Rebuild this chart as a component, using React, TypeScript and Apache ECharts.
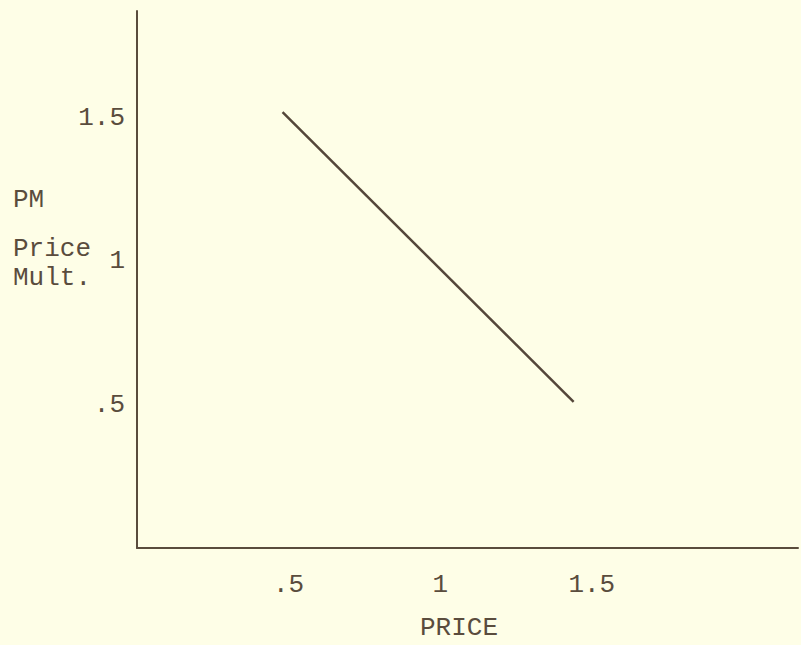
import React, { useEffect, useRef } from "react";
import * as echarts from "echarts";

const xTicks = [0.5, 1, 1.5];
const xTickLabels = [".5", "1", "1.5"];
const yTicks = [0.5, 1, 1.5];
const yTickLabels = [".5", "1", "1.5"];
const lineX = [0.48, 1.44];
const lineY = [1.52, 0.51];

const FONT = "'Liberation Mono', 'DejaVu Sans Mono', monospace";
const INK = "#5a4c3d";
const BG = "#fefee7";
const FS = 26;

function labelFor(v: number, ticks: number[], labels: string[]) {
  for (let i = 0; i < ticks.length; i++) {
    if (Math.abs(ticks[i] - v) < 1e-6) return labels[i];
  }
  return "";
}

export default function App() {
  const ref = useRef<HTMLDivElement>(null);
  useEffect(() => {
    if (!ref.current) return;
    const chart = echarts.init(ref.current, undefined, { renderer: "svg" });
    chart.setOption({
      animation: false,
      backgroundColor: BG,
      grid: { left: 137, top: 11, right: 0, bottom: 97, containLabel: false },
      xAxis: {
        type: "value",
        min: 0,
        max: 2.18,
        interval: 0.5,
        axisLine: { show: true, lineStyle: { color: INK, width: 2 } },
        axisTick: { show: false },
        splitLine: { show: false },
        axisLabel: {
          margin: 24,
          color: INK,
          fontFamily: FONT,
          fontSize: FS,
          formatter: (v: number) => labelFor(v, xTicks, xTickLabels),
        },
      },
      yAxis: {
        type: "value",
        min: 0,
        max: 1.873,
        interval: 0.5,
        axisLine: { show: true, lineStyle: { color: INK, width: 2 } },
        axisTick: { show: false },
        splitLine: { show: false },
        axisLabel: {
          margin: 12,
          color: INK,
          fontFamily: FONT,
          fontSize: FS,
          formatter: (v: number) => labelFor(v, yTicks, yTickLabels),
        },
      },
      series: [
        {
          type: "line",
          data: lineX.map((x, i) => [x, lineY[i]]),
          symbol: "none",
          lineStyle: { color: "#54463a", width: 2.5 },
        },
      ],
      graphic: [
        { type: "text", left: 13, top: 187, style: { text: "PM", fill: INK, font: `${FS}px ${FONT}` } },
        { type: "text", left: 13, top: 236, style: { text: "Price", fill: INK, font: `${FS}px ${FONT}` } },
        { type: "text", left: 13, top: 265, style: { text: "Mult.", fill: INK, font: `${FS}px ${FONT}` } },
        { type: "text", left: 420, top: 615, style: { text: "PRICE", fill: INK, font: `${FS}px ${FONT}` } },
      ],
    });
    return () => chart.dispose();
  }, []);
  return <div ref={ref} style={{ width: 801, height: 645, position: "absolute", left: 0, top: 0 }} />;
}
